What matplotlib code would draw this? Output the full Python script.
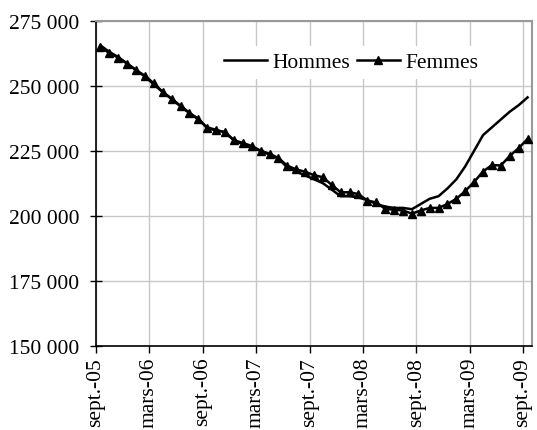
import numpy as np
import matplotlib.pyplot as plt
from matplotlib.ticker import FuncFormatter

plt.rcParams['font.family'] = ['Liberation Serif', 'DejaVu Serif']

# Donnees mensuelles, sept. 2005 -> sept. 2009
hommes = [265500, 263000, 261000, 258500, 256000, 253500, 250500, 247500, 245000, 242000,
          239500, 237000, 234000, 233000, 232000, 229000, 227500, 226000, 225000, 223500,
          222000, 218500, 217000, 215500, 214000, 212500, 210000, 207500, 207500, 207000,
          206000, 204500, 203500, 203000, 203000, 202500, 204500, 206500, 207500, 210500,
          214000, 219000, 225000, 231000, 234000, 237000, 240000, 242500, 245500]
femmes = [265000, 262500, 260800, 258500, 256000, 253800, 250900, 247600, 244900, 242300,
          239500, 237300, 233600, 232800, 232200, 229000, 228000, 226800, 225000, 223800,
          222200, 219200, 217800, 216900, 215600, 214800, 211800, 209000, 209000, 208300,
          205800, 205100, 202600, 202300, 202000, 200800, 202000, 203000, 203000, 204500,
          206500, 209500, 213000, 217000, 219500, 219300, 223000, 226000, 229500]
labels_x = ['sept.-05', 'mars-06', 'sept.-06', 'mars-07', 'sept.-07',
            'mars-08', 'sept.-08', 'mars-09', 'sept.-09']

mois = np.arange(len(hommes)) + 0.5
fs = 15.5

fig = plt.figure(figsize=(5.37, 4.31), dpi=100)
ax = fig.add_axes([96/537, 1-346.7/431, (532-96)/537, (346.7-21.7)/431])

ax.plot(mois, hommes, 'k-', lw=1.8, label='Hommes', zorder=3)
ax.plot(mois, femmes, 'k-', lw=1.8, marker='^', ms=5.5, label='Femmes', zorder=3)

ax.set_xlim(0, len(hommes))
ax.set_ylim(150000, 275000)
ax.set_xticks(np.arange(0, 49, 6))
ax.set_xticklabels(labels_x, rotation=90, fontsize=fs)
ax.set_yticks(np.arange(150000, 275001, 25000))
ax.yaxis.set_major_formatter(FuncFormatter(lambda v, p: f'{int(v):,}'.replace(',', ' ')))
ax.tick_params(axis='y', labelsize=fs, direction='inout', length=8, width=1, pad=8)
ax.tick_params(axis='x', direction='out', length=5, width=1, pad=3)

ax.grid(True, color='#c8c8c8', lw=1)
ax.set_axisbelow(True)
for s in ['left', 'bottom']:
    ax.spines[s].set_color('black')
    ax.spines[s].set_linewidth(1.2)
for s in ['top', 'right']:
    ax.spines[s].set_color('#999999')
    ax.spines[s].set_linewidth(1.5)

leg = ax.legend(loc='center', ncol=2, frameon=True, fontsize=fs,
                handlelength=2.0, columnspacing=0.3, handletextpad=0.25,
                bbox_to_anchor=(0.585, 0.872), borderpad=0.3)
leg.get_frame().set_edgecolor('none')
leg.get_frame().set_facecolor('white')
leg.get_frame().set_alpha(1)

fig.savefig('out.png', dpi=100)
